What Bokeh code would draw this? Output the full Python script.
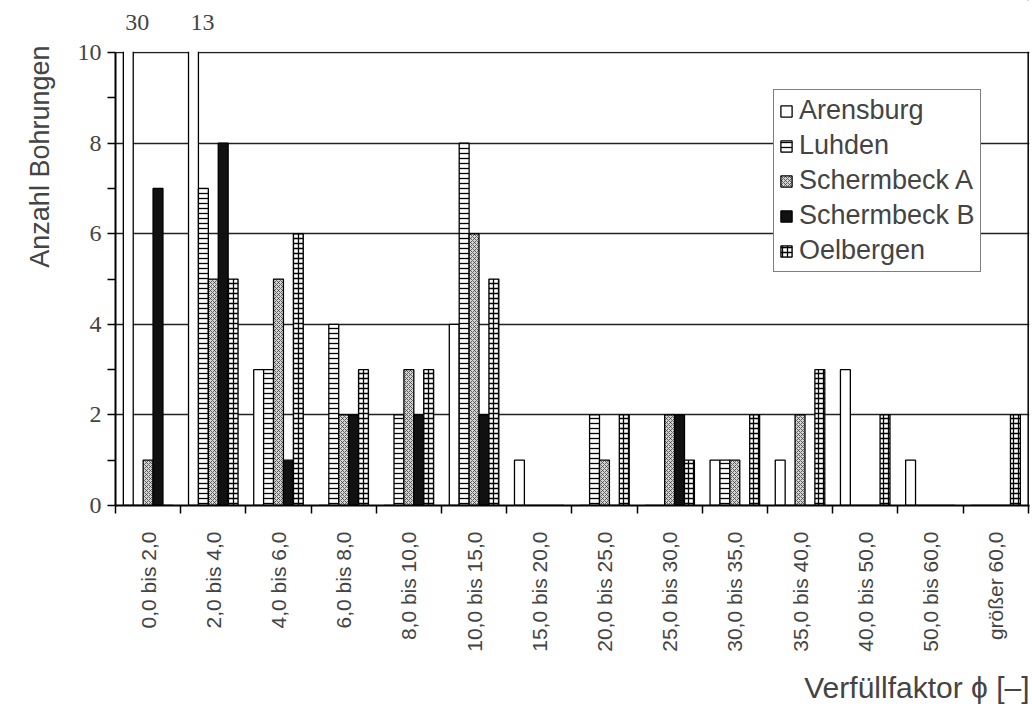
import math
from bokeh.plotting import figure
from bokeh.models import (ColumnDataSource, Range1d, FixedTicker, LinearAxis, Span,
                          Legend, LegendItem, Label, Title, BoxAnnotation, CustomJSTransform)
from bokeh.transform import dodge, transform
from bokeh.embed import file_html
from bokeh.resources import INLINE

categories = ["0,0 bis 2,0", "2,0 bis 4,0", "4,0 bis 6,0", "6,0 bis 8,0", "8,0 bis 10,0",
              "10,0 bis 15,0", "15,0 bis 20,0", "20,0 bis 25,0", "25,0 bis 30,0",
              "30,0 bis 35,0", "35,0 bis 40,0", "40,0 bis 50,0", "50,0 bis 60,0", "größer 60,0"]
arensburg    = [30, 13, 3, 0, 0, 4, 1, 0, 0, 1, 1, 3, 1, 0]
luhden       = [0, 7, 3, 4, 2, 8, 0, 2, 0, 1, 0, 0, 0, 0]
schermbeck_a = [1, 5, 5, 2, 3, 6, 0, 1, 2, 1, 2, 0, 0, 0]
schermbeck_b = [7, 8, 1, 2, 2, 2, 0, 0, 2, 0, 0, 0, 0, 0]
oelbergen    = [0, 5, 6, 3, 3, 5, 0, 2, 1, 2, 3, 2, 0, 2]
series_names = ["Arensburg", "Luhden", "Schermbeck A", "Schermbeck B", "Oelbergen"]
y_ticks = [0, 2, 4, 6, 8, 10]
y_minor = [1, 3, 5, 7, 9]
y_max = 10

n = len(categories)
centers = [i + 0.5 for i in range(n)]
bounds = list(range(n + 1))
source = ColumnDataSource(dict(x=centers, cat=categories, a=arensburg, l=luhden,
                               sa=schermbeck_a, sb=schermbeck_b, o=oelbergen))

# frame reaches above the axis top so that the overflow numbers fit inside it
p = figure(width=1032, height=717, x_range=Range1d(0, n + 0.02),
           y_range=Range1d(0, y_max + 1.15),
           output_backend="svg", toolbar_location=None, x_axis_type=None,
           min_border_left=115, min_border_right=3, min_border_top=0, min_border_bottom=212,
           background_fill_color="white", border_fill_color="white")
p.outline_line_color = None

# bars taller than the axis are cut just above its top (broken-axis look)
cut = CustomJSTransform(args=dict(lim=y_max + 0.5),
                        v_func="return xs.map((v) => Math.min(v, lim));")

bw = 0.152
styles = [
    dict(fill_color="white"),
    dict(fill_color="white", hatch_pattern="horizontal_line", hatch_scale=5, hatch_weight=1.3, hatch_color="black"),
    dict(fill_color="#d4d4d4", hatch_pattern="diagonal_cross", hatch_scale=4, hatch_weight=0.8, hatch_color="#444444"),
    dict(fill_color="#111111"),
    dict(fill_color="white", hatch_pattern="cross", hatch_scale=5, hatch_weight=1.3, hatch_color="black"),
]
cols = ["a", "l", "sa", "sb", "o"]
renderers = []
for k, (c, st) in enumerate(zip(cols, styles)):
    off = (k - 2) * bw
    r = p.vbar(x=dodge("x", off, range=p.x_range), top=transform(c, cut), bottom=0, width=bw,
               source=source, line_color="black", line_width=1.3, **st)
    renderers.append(r)

# y axis
p.yaxis.ticker = FixedTicker(ticks=y_ticks, minor_ticks=y_minor)
p.yaxis.bounds = (0, y_max)
p.yaxis.axis_line_width = 2
p.yaxis.major_tick_out = 8
p.yaxis.major_tick_in = 0
p.yaxis.minor_tick_out = 8
p.yaxis.minor_tick_in = 0
p.yaxis.major_tick_line_width = 1.5
p.yaxis.minor_tick_line_width = 1.5
p.yaxis.major_label_text_font = "Liberation Serif"
p.yaxis.major_label_text_font_size = "24px"
p.yaxis.major_label_standoff = 6
p.ygrid.ticker = FixedTicker(ticks=[t for t in y_ticks if t > 0])
p.ygrid.grid_line_color = "#222222"
p.ygrid.grid_line_width = 1.5
p.xgrid.visible = False

# x axis: labels at class centres, tick marks at class boundaries (minor ticks)
ax = LinearAxis(ticker=FixedTicker(ticks=centers, minor_ticks=bounds),
                major_label_overrides={c: lab for c, lab in zip(centers, categories)},
                axis_line_width=2, major_tick_line_color=None,
                minor_tick_out=8, minor_tick_in=0, minor_tick_line_width=1.5,
                major_label_orientation=math.pi / 2, major_label_text_font="Liberation Sans",
                major_label_text_font_size="21px", major_label_standoff=18)
p.add_layout(ax, "below")

p.add_layout(Title(text="Verfüllfaktor ϕ [–]", align="right", text_font="Liberation Sans",
                   text_font_size="30px", text_font_style="normal", standoff=28), "below")
p.add_layout(Title(text="Anzahl Bohrungen", align="right", text_font="Liberation Sans",
                   text_font_size="27px", text_font_style="normal", standoff=40, offset=45,
                   text_line_height=0.9), "left")

# right border, then a white mask that hides the bars above the axis top
p.add_layout(Span(location=n, dimension="height", line_color="black", line_width=1.5))
p.add_layout(BoxAnnotation(bottom=y_max + 0.02, fill_color="white", fill_alpha=1.0,
                           line_alpha=0, line_width=0))

# numbers for bars exceeding the axis
for i, v in enumerate(arensburg):
    if v > y_max:
        p.add_layout(Label(x=centers[i] - 2 * bw, y=y_max, text=str(v), x_offset=-3, y_offset=30,
                           text_font="Liberation Serif", text_font_size="24px", text_align="left",
                           text_baseline="alphabetic"))

legend = Legend(items=[LegendItem(label=nm, renderers=[r]) for nm, r in zip(series_names, renderers)],
                location=(658, 233), label_text_font="Liberation Sans", label_text_font_size="27px",
                glyph_width=14, glyph_height=14, label_height=30, spacing=4, padding=5,
                label_standoff=6, margin=0, border_line_color="black", border_line_width=1.2,
                background_fill_alpha=1)
p.add_layout(legend)

open("out.html", "w").write(file_html(p, INLINE))
